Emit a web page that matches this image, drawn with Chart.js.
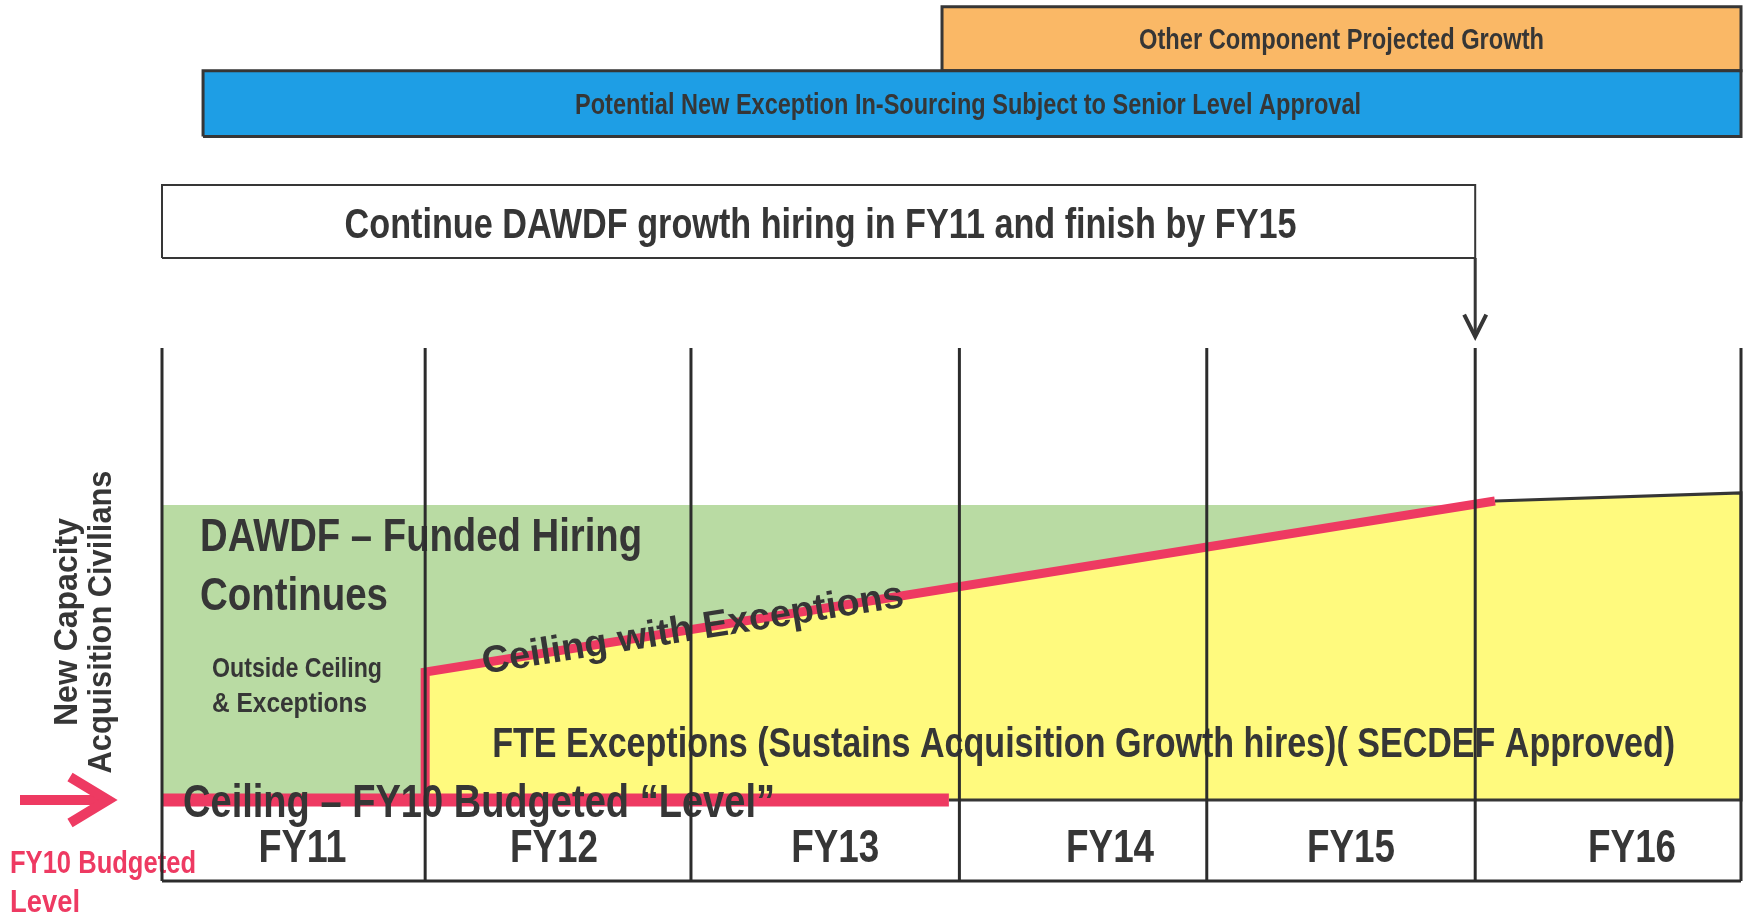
<!DOCTYPE html>
<html>
<head>
<meta charset="utf-8">
<style>
html,body{margin:0;padding:0;background:#fff;}
#wrap{width:1743px;height:918px;position:relative;}
</style>
<script src="https://cdn.jsdelivr.net/npm/chart.js@4.4.1/dist/chart.umd.min.js"></script>
</head>
<body>
<div id="wrap"><canvas id="c"></canvas></div>
<script>
// ---------------- data ----------------
const fiscalYears = ['FY11', 'FY12', 'FY13', 'FY14', 'FY15', 'FY16'];
const yearBounds = [11, 12, 13.01, 14.03, 14.97, 15.99, 17];

const budgetedLevelX = [11, 13.99];
const budgetedLevelY = [0, 0];

const exceptionCeilingX = [12, 12, 16.065];
const exceptionCeilingY = [0, 15.8, 36.9];

const projectedCeilingX = [16.065, 17, 17];
const projectedCeilingY = [36.9, 37.9, 0];

const dawdfFundedX = [11, 15.95];
const dawdfFundedY = [36.4, 36.4];

const otherComponentX = [13.964, 17];
const otherComponentY = [90, 97.9];
const inSourcingX = [11.156, 17];
const inSourcingY = [81.9, 90];
const hiringWindowX = [11, 15.99];
const hiringWindowY = [66.9, 75.9];
const hiringArrowY = [66.9, 57.2];

const gridRangeY = [-10, 55.8];

const texts = {
  other: 'Other Component Projected Growth',
  insourcing: 'Potential New Exception In-Sourcing Subject to Senior Level Approval',
  hiring: 'Continue DAWDF growth hiring in FY11 and finish by FY15',
  dawdf1: 'DAWDF \u2013 Funded Hiring',
  dawdf2: 'Continues',
  outside1: 'Outside Ceiling',
  outside2: '& Exceptions',
  budgeted: 'Ceiling \u2013 FY10 Budgeted \u201CLevel\u201D',
  exception: 'Ceiling with Exceptions',
  fte: 'FTE Exceptions (Sustains Acquisition Growth hires)( SECDEF Approved)',
  yTitle1: 'New Capacity',
  yTitle2: 'Acquisition Civilians',
  fy10a: 'FY10 Budgeted',
  fy10b: 'Level'
};

// ---------------- helpers ----------------
const pts = (xs, ys) => xs.map((x, i) => ({x: x, y: ys[i]}));
const rect = (xs, ys) => [
  {x: xs[0], y: ys[0]}, {x: xs[0], y: ys[1]}, {x: xs[1], y: ys[1]},
  {x: xs[1], y: ys[0]}, {x: xs[0], y: ys[0]}
];
const DARK = '#363636';
const RED = '#EE3A62';
const GREEN = '#B9DBA3';
const YELLOW = '#FFFA7E';
const BLUE = '#1E9EE5';
const ORANGE = '#FAB866';
const NARROW = '"Liberation Sans Narrow", "Liberation Sans", Arial, sans-serif';
const REG = '"Liberation Sans", Arial, sans-serif';
const labelNudge = [9, -4, 10, 27, 10, 24]; // layout only (px)

const base = {pointRadius: 0, pointHoverRadius: 0, tension: 0, clip: false, fill: false,
  borderCapStyle: 'butt', borderJoinStyle: 'miter'};

const datasets = [];
function add(o) { datasets.push(Object.assign({}, base, o)); }

// banners
add({data: pts(otherComponentX, [otherComponentY[1], otherComponentY[1]]), fill: {value: otherComponentY[0]},
  backgroundColor: ORANGE, borderWidth: 0, order: 100});
add({data: rect(otherComponentX, otherComponentY), borderColor: DARK, borderWidth: 3, order: 99});
add({data: pts(inSourcingX, [inSourcingY[1], inSourcingY[1]]), fill: {value: inSourcingY[0]},
  backgroundColor: BLUE, borderWidth: 0, order: 98});
add({data: rect(inSourcingX, inSourcingY), borderColor: DARK, borderWidth: 3, order: 97});
add({data: pts(hiringWindowX, [hiringWindowY[1], hiringWindowY[1]]), fill: {value: hiringWindowY[0]},
  backgroundColor: '#ffffff', borderWidth: 0, order: 96});
add({data: rect(hiringWindowX, hiringWindowY), borderColor: DARK, borderWidth: 2, order: 95});
add({data: pts([hiringWindowX[1], hiringWindowX[1]], hiringArrowY), borderColor: DARK, borderWidth: 3, order: 94});
add({data: [
  {x: hiringWindowX[1] - 0.042, y: hiringArrowY[1] + 2.7},
  {x: hiringWindowX[1], y: hiringArrowY[1]},
  {x: hiringWindowX[1] + 0.042, y: hiringArrowY[1] + 2.7}],
  borderColor: DARK, borderWidth: 4, order: 93});

// DAWDF funded (green)
add({data: pts(dawdfFundedX, dawdfFundedY), fill: {value: 0}, backgroundColor: GREEN, borderWidth: 0, order: 90});
// Exceptions (yellow)
add({data: pts(exceptionCeilingX.concat(projectedCeilingX), exceptionCeilingY.concat(projectedCeilingY)),
  fill: {value: 0}, backgroundColor: YELLOW, borderWidth: 0, order: 80});
// outline of projected portion
add({data: pts(projectedCeilingX.concat([budgetedLevelX[1]]), projectedCeilingY.concat([0])),
  borderColor: DARK, borderWidth: 3, order: 75});
// FY10 budgeted ceiling (red)
add({data: pts(budgetedLevelX, budgetedLevelY), borderColor: RED, borderWidth: 13, order: 70});
// ceiling with exceptions (red)
add({data: pts(exceptionCeilingX, exceptionCeilingY), borderColor: RED, borderWidth: 9, order: 65, tag: 'exception'});
// grid verticals
yearBounds.forEach(b => add({data: pts([b, b], gridRangeY), borderColor: '#2c2c2c', borderWidth: 3, order: 50}));
// bottom border
add({data: pts([yearBounds[0], yearBounds[yearBounds.length - 1]], [gridRangeY[0], gridRangeY[0]]),
  borderColor: '#2c2c2c', borderWidth: 3, order: 49});

// ---------------- text plugin ----------------
function txt(ctx, s, x, y, font, color, align, maxW) {
  ctx.font = font;
  ctx.fillStyle = color;
  ctx.textAlign = align || 'left';
  ctx.textBaseline = 'alphabetic';
  const w = ctx.measureText(s).width;
  if (maxW && w > maxW) ctx.fillText(s, x, y, maxW); else ctx.fillText(s, x, y);
}

const textPlugin = {
  id: 'diagramText',
  afterDatasetDraw(chart, args) {
    if (chart.data.datasets[args.index].tag !== 'exception') return;
    const ctx = chart.ctx;
    const X = v => chart.scales.x.getPixelForValue(v);
    const Y = v => chart.scales.y.getPixelForValue(v);
    ctx.save();

    // banner texts
    txt(ctx, texts.other, (X(otherComponentX[0]) + X(otherComponentX[1])) / 2,
      (Y(otherComponentY[0]) + Y(otherComponentY[1])) / 2 + 10.5, 'bold 29px ' + NARROW, DARK, 'center', 405);
    txt(ctx, texts.insourcing, (X(inSourcingX[0]) + X(inSourcingX[1])) / 2 - 4,
      (Y(inSourcingY[0]) + Y(inSourcingY[1])) / 2 + 10, 'bold 29px ' + NARROW, DARK, 'center', 786);
    txt(ctx, texts.hiring, (X(hiringWindowX[0]) + X(hiringWindowX[1])) / 2 + 2,
      (Y(hiringWindowY[0]) + Y(hiringWindowY[1])) / 2 + 16, 'bold 42px ' + NARROW, DARK, 'center', 952);

    // green area texts
    const gx = X(yearBounds[0]);
    txt(ctx, texts.dawdf1, gx + 38, 551, 'bold 46px ' + NARROW, DARK, 'left', 442);
    txt(ctx, texts.dawdf2, gx + 38, 610, 'bold 46px ' + NARROW, DARK, 'left', 188);
    txt(ctx, texts.outside1, gx + 50, 677, 'bold 27px ' + NARROW, DARK, 'left', 170);
    txt(ctx, texts.outside2, gx + 50, 712, 'bold 27px ' + NARROW, DARK, 'left', 155);

    // budgeted ceiling text
    txt(ctx, texts.budgeted, gx + 21, Y(0) + 17, 'bold 47px ' + NARROW, DARK, 'left', 592);

    // FTE exceptions
    txt(ctx, texts.fte, X(12) + 67, 757, 'bold 42px ' + NARROW, DARK, 'left', 1183);

    // ceiling with exceptions (rotated along the line)
    const x0 = X(exceptionCeilingX[1]), y0 = Y(exceptionCeilingY[1]);
    const x1 = X(exceptionCeilingX[2]), y1 = Y(exceptionCeilingY[2]);
    const ang = Math.atan2(y1 - y0, x1 - x0);
    const t = 57 / (x1 - x0);
    ctx.save();
    ctx.translate(x0 + t * (x1 - x0), y0 + t * (y1 - y0));
    ctx.rotate(ang);
    txt(ctx, texts.exception, 0, 11, 'bold 38px ' + REG, DARK, 'left', 428);
    ctx.restore();

    // FY labels
    fiscalYears.forEach((fy, i) => {
      const cx = (X(yearBounds[i]) + X(yearBounds[i + 1])) / 2 + labelNudge[i];
      txt(ctx, fy, cx, 862, 'bold 46px ' + NARROW, DARK, 'center', 88);
    });

    // y-axis title (rotated)
    ctx.save();
    ctx.translate(0, 622);
    ctx.rotate(-Math.PI / 2);
    txt(ctx, texts.yTitle1, 0, 77, 'bold 33px ' + REG, DARK, 'center', 208);
    txt(ctx, texts.yTitle2, 0, 111, 'bold 33px ' + REG, DARK, 'center', 303);
    ctx.restore();

    // red arrow pointing to the FY10 level
    const ay = Y(0);
    ctx.strokeStyle = RED;
    ctx.lineWidth = 10;
    ctx.lineCap = 'butt';
    ctx.lineJoin = 'miter';
    ctx.beginPath();
    ctx.moveTo(20, ay);
    ctx.lineTo(108, ay);
    ctx.stroke();
    ctx.beginPath();
    ctx.moveTo(70, ay - 23);
    ctx.lineTo(108, ay);
    ctx.lineTo(70, ay + 23);
    ctx.stroke();

    // FY10 budgeted level label (red)
    txt(ctx, texts.fy10a, 10, 873, 'bold 31px ' + NARROW, RED, 'left', 186);
    txt(ctx, texts.fy10b, 10, 912, 'bold 31px ' + NARROW, RED, 'left', 70);

    ctx.restore();
  }
};

new Chart(document.getElementById('c'), {
  type: 'line',
  data: {datasets: datasets},
  options: {
    responsive: true,
    maintainAspectRatio: false,
    animation: false,
    events: [],
    layout: {padding: {left: 162, right: 2, top: 6, bottom: 37}},
    scales: {
      x: {type: 'linear', min: 11, max: 17, display: false},
      y: {type: 'linear', min: -10, max: 98, display: false}
    },
    plugins: {legend: {display: false}, tooltip: {enabled: false}}
  },
  plugins: [textPlugin]
});
</script>
</body>
</html>
